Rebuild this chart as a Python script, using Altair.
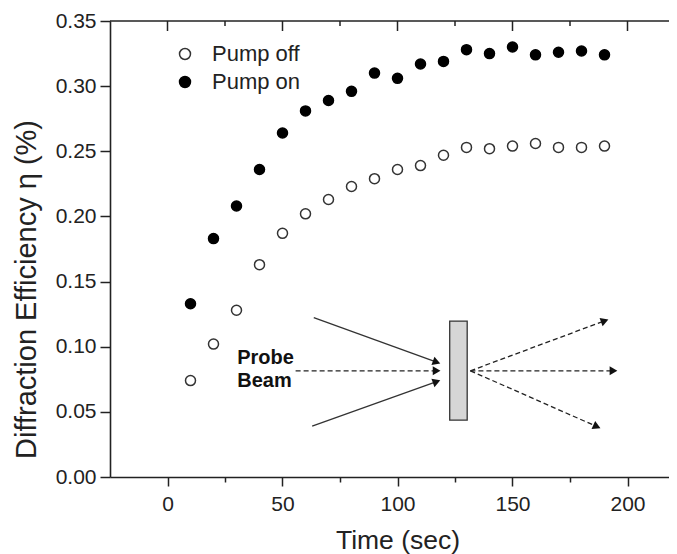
import altair as alt
import pandas as pd

# ---------------- data ----------------
time_s = [10, 20, 30, 40, 50, 60, 70, 80, 90, 100, 110, 120, 130, 140, 150, 160, 170, 180, 190]
pump_off = [0.074, 0.102, 0.128, 0.163, 0.187, 0.202, 0.213, 0.223, 0.229, 0.236,
            0.239, 0.247, 0.253, 0.252, 0.254, 0.256, 0.253, 0.253, 0.254]
pump_on = [0.133, 0.183, 0.208, 0.236, 0.264, 0.281, 0.289, 0.296, 0.310, 0.306,
           0.317, 0.319, 0.328, 0.325, 0.330, 0.324, 0.326, 0.327, 0.324]
series_names = ["Pump off", "Pump on"]

x_ticks = [0, 25, 50, 75, 100, 125, 150, 175, 200]
x_major = [0, 50, 100, 150, 200]
x_minor = [25, 75, 125, 175]
y_ticks = [0.0, 0.025, 0.05, 0.075, 0.10, 0.125, 0.15, 0.175, 0.20, 0.225,
           0.25, 0.275, 0.30, 0.325, 0.35]

# inset diagram (data units)
grating_x, grating_x2 = [122.7], [130.3]
grating_y, grating_y2 = [0.0436], [0.1197]
solid_x, solid_y = [63.6, 62.9], [0.1223, 0.0391]
solid_x2, solid_y2 = [117.0, 117.0], [0.0881, 0.0732]
dash_x = [55.7, 131.7, 131.7, 131.7]
dash_y = [0.0815, 0.0815, 0.0815, 0.0815]
dash_x2 = [117.0, 190.1, 193.9, 186.7]
dash_y2 = [0.0815, 0.1199, 0.0815, 0.0387]
head_x = [117.0, 117.0, 117.0, 190.1, 193.9, 186.7]
head_y = [0.0881, 0.0815, 0.0732, 0.1199, 0.0815, 0.0387]
head_angle = [110, 90, 70, 70, 90, 114]
probe_text = ["Probe", "Beam"]
probe_x = [30.3, 30.3]
probe_y = [0.0871, 0.0687]

FONT = "Liberation Sans"
INK = "#222222"
W, H = 559, 456          # view is cut at the right edge, like the reference
X_MAX = -25 + W / 2.3    # keeps 2.3 px per second

# ---------------- frames ----------------
pts = pd.DataFrame({
    "x": time_s * 2,
    "y": pump_off + pump_on,
    "series": [series_names[0]] * len(time_s) + [series_names[1]] * len(time_s),
})

xscale = alt.Scale(domain=[-25, X_MAX], nice=False, zero=False)
yscale = alt.Scale(domain=[0, 0.35], nice=False, zero=False)

x_axis = alt.Axis(
    values=x_ticks,
    labelExpr="datum.value % 50 === 0 ? datum.label : ''",
    tickSize={"condition": {"test": "datum.value % 50 === 0", "value": 9}, "value": 5},
    tickColor=INK, tickWidth=1.5, domainColor=INK, domainWidth=1.6,
    labelFont=FONT, labelFontSize=21, labelColor=INK, labelPadding=7,
    labelFlush=False, labelOverlap=False, grid=False,
    title="Time (sec)", titleFont=FONT, titleFontSize=26.5, titleFontWeight="normal",
    titleColor=INK, titleY=71, titleX=287.5, titleBaseline="alphabetic", titleAlign="center",
)
y_axis = alt.Axis(
    values=y_ticks,
    labelExpr="(round(datum.value * 1000) % 50 === 0) ? format(datum.value, '.2f') : ''",
    tickSize={"condition": {"test": "round(datum.value * 1000) % 50 === 0", "value": 10}, "value": 5},
    tickColor=INK, tickWidth=1.5, domainColor=INK, domainWidth=1.6,
    labelFont=FONT, labelFontSize=21, labelColor=INK, labelPadding=4,
    labelFlush=False, labelOverlap=False, grid=False,
    title="Diffraction Efficiency η (%)", titleFont=FONT, titleFontSize=29,
    titleFontWeight="normal", titleColor=INK, titleX=-84, titleY=268,
    titleBaseline="middle", titleAlign="center", titleAngle=270,
)

legend = alt.Legend(
    title=None, orient="none", legendX=64, legendY=22, padding=0,
    labelFont=FONT, labelFontSize=22, labelColor=INK, labelOffset=16,
    symbolSize=120, symbolStrokeWidth=1.5, rowPadding=6, symbolType="circle",
)

points = alt.Chart(pts).mark_point(filled=True, size=100, strokeWidth=1.5, opacity=1).encode(
    x=alt.X("x:Q", scale=xscale, axis=x_axis),
    y=alt.Y("y:Q", scale=yscale, axis=y_axis),
    fill=alt.Fill("series:N", scale=alt.Scale(domain=series_names, range=["white", "black"]), legend=legend),
    stroke=alt.Stroke("series:N", scale=alt.Scale(domain=series_names, range=["#333333", "black"]), legend=legend),
)

grating = alt.Chart(pd.DataFrame({"x": grating_x, "x2": grating_x2, "y": grating_y, "y2": grating_y2})).mark_rect(
    fill="#d6d6d6", stroke="#333333", strokeWidth=1.3
).encode(x="x:Q", x2="x2:Q", y="y:Q", y2="y2:Q")

solid = alt.Chart(pd.DataFrame({"x": solid_x, "x2": solid_x2, "y": solid_y, "y2": solid_y2})).mark_rule(
    color="#333333", strokeWidth=1.3
).encode(x="x:Q", x2="x2:Q", y="y:Q", y2="y2:Q")

dashed = alt.Chart(pd.DataFrame({"x": dash_x, "x2": dash_x2, "y": dash_y, "y2": dash_y2})).mark_rule(
    color="#222222", strokeWidth=1.3, strokeDash=[5, 3]
).encode(x="x:Q", x2="x2:Q", y="y:Q", y2="y2:Q")

heads = alt.Chart(pd.DataFrame({"x": head_x, "y": head_y, "a": head_angle})).mark_point(
    shape="triangle-up", filled=True, color="#111111", size=80, opacity=1
).encode(x="x:Q", y="y:Q", angle=alt.Angle("a:Q", scale=None))

probe = alt.Chart(pd.DataFrame({"x": probe_x, "y": probe_y, "t": probe_text})).mark_text(
    align="left", baseline="alphabetic", font=FONT, fontSize=20, fontWeight="bold", color="#111111"
).encode(x="x:Q", y="y:Q", text="t:N")

top_line = alt.Chart(pd.DataFrame({"x": [0]})).mark_rule(color=INK, strokeWidth=1.6).encode(
    x=alt.value(0), x2=alt.value(W), y=alt.value(0))
top_major = alt.Chart(pd.DataFrame({"x": x_major})).mark_rule(color=INK, strokeWidth=1.5).encode(
    x="x:Q", y=alt.value(0), y2=alt.value(10))
top_minor = alt.Chart(pd.DataFrame({"x": x_minor})).mark_rule(color=INK, strokeWidth=1.5).encode(
    x="x:Q", y=alt.value(0), y2=alt.value(5))

chart = alt.layer(
    grating, solid, dashed, heads, probe, top_line, top_major, top_minor, points
).properties(
    width=W, height=H,
    autosize=alt.AutoSizeParams(type="none"),
    padding={"left": 102, "top": 13, "right": 0, "bottom": 77},
).configure_view(stroke=None)

chart.save("out.html", embed_options={"renderer": "svg", "actions": False})
